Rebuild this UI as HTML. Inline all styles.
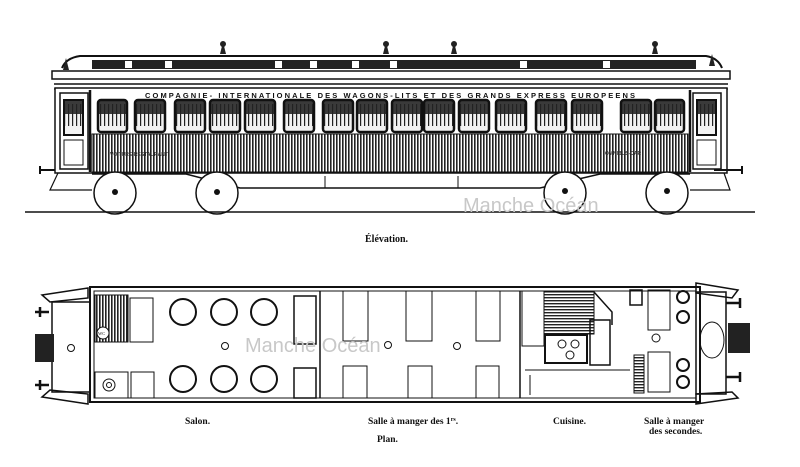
<!DOCTYPE html>
<html><head><meta charset="utf-8"><style>
html,body{margin:0;padding:0;background:#fff;}
svg{display:block;}
text{font-family:"Liberation Serif",serif;}
</style></head><body>
<svg width="800" height="467" viewBox="0 0 800 467" xmlns="http://www.w3.org/2000/svg">
<defs>
<pattern id="vs" width="3" height="10" patternUnits="userSpaceOnUse"><rect width="3" height="10" fill="#fff"/><rect width="1.6" height="10" fill="#222"/></pattern>
<pattern id="hs" width="10" height="3" patternUnits="userSpaceOnUse"><rect width="10" height="3" fill="#fff"/><rect width="10" height="1.4" fill="#222"/></pattern>
<pattern id="win" x="0" y="100" width="4" height="40" patternUnits="userSpaceOnUse"><rect width="4" height="14" fill="#3a3a3a"/><rect y="14" width="4" height="26" fill="#f2f2f2"/><rect width="1.2" height="22" y="4" fill="#222"/></pattern>
</defs>
<rect width="800" height="467" fill="#fff"/>
<g stroke="#111" fill="none">
<path d="M62 68 Q66 58 80 56 L706 56 Q718 58 722 68" stroke-width="2"/>
<rect x="92" y="60" width="604" height="9" fill="#222" stroke="none"/>
<g fill="#fff" stroke="none">
<rect x="125" y="61" width="7" height="7"/><rect x="165" y="61" width="7" height="7"/><rect x="275" y="61" width="7" height="7"/><rect x="310" y="61" width="7" height="7"/><rect x="352" y="61" width="7" height="7"/><rect x="390" y="61" width="7" height="7"/><rect x="520" y="61" width="7" height="7"/><rect x="603" y="61" width="7" height="7"/>
</g>
<g fill="#222" stroke="none">
<path d="M220 54 l3-12 l3 12z"/><circle cx="223" cy="44" r="3"/>
<path d="M383 54 l3-12 l3 12z"/><circle cx="386" cy="44" r="3"/>
<path d="M451 54 l3-12 l3 12z"/><circle cx="454" cy="44" r="3"/>
<path d="M652 54 l3-12 l3 12z"/><circle cx="655" cy="44" r="3"/>
<path d="M63 70 l3-12 l3 12z"/><path d="M709 66 l3-12 l3 12z"/>
</g>
<rect x="52" y="71" width="678" height="8" fill="#fff" stroke-width="1.5"/>
<line x1="54" y1="84" x2="728" y2="84" stroke-width="1.5"/>
<line x1="54" y1="89" x2="728" y2="89" stroke-width="1"/>
<rect x="55" y="88" width="672" height="85" stroke-width="1.5" fill="#fff"/>
<rect x="92" y="134" width="596" height="38" fill="url(#vs)" stroke-width="1"/>
<rect x="60" y="93" width="28" height="76" stroke-width="1.5"/>
<rect x="64" y="100" width="19" height="35" fill="url(#win)" stroke-width="2"/>
<rect x="64" y="140" width="19" height="25" stroke-width="1"/>
<rect x="693" y="93" width="28" height="76" stroke-width="1.5"/>
<rect x="697" y="100" width="19" height="35" fill="url(#win)" stroke-width="2"/>
<rect x="697" y="140" width="19" height="25" stroke-width="1"/>
<line x1="90" y1="90" x2="90" y2="172" stroke-width="2.5"/>
<line x1="690" y1="90" x2="690" y2="172" stroke-width="2.5"/>
</g>
<g fill="url(#win)" stroke="#111" stroke-width="2.5">
<rect x="98" y="100" width="29" height="32" rx="3"/><rect x="135" y="100" width="30" height="32" rx="3"/><rect x="175" y="100" width="30" height="32" rx="3"/><rect x="210" y="100" width="30" height="32" rx="3"/><rect x="245" y="100" width="30" height="32" rx="3"/><rect x="284" y="100" width="30" height="32" rx="3"/><rect x="323" y="100" width="30" height="32" rx="3"/><rect x="357" y="100" width="30" height="32" rx="3"/><rect x="392" y="100" width="30" height="32" rx="3"/><rect x="424" y="100" width="30" height="32" rx="3"/><rect x="459" y="100" width="30" height="32" rx="3"/><rect x="496" y="100" width="30" height="32" rx="3"/><rect x="536" y="100" width="30" height="32" rx="3"/><rect x="572" y="100" width="30" height="32" rx="3"/><rect x="621" y="100" width="30" height="32" rx="3"/><rect x="655" y="100" width="29" height="32" rx="3"/>
</g>
<g font-size="7" font-weight="bold" fill="#111">
<text x="145" y="98" style="font-family:'Liberation Sans',sans-serif" font-size="7.5" textLength="490" lengthAdjust="spacing">COMPAGNIE-  INTERNATIONALE  DES  WAGONS-LITS  ET  DES  GRANDS  EXPRESS  EUROPEENS</text>
<text x="110" y="156" font-size="5" style="font-family:'Liberation Sans',sans-serif" fill="#333">VOITURE-RESTAURANT</text>
<text x="605" y="155" font-size="5" style="font-family:'Liberation Sans',sans-serif" fill="#333">OMNIBUS-CAR</text>
</g>
<g stroke="#111" fill="none">
<path d="M92 174 L186 174 L240 188 L540 188 L600 174 L690 174" stroke-width="1.5"/>
<line x1="325" y1="176" x2="325" y2="188"/><line x1="458" y1="176" x2="458" y2="188"/>
<path d="M40 170 L55 170 M40 166 v8 M714 170 L742 170 M742 166 v8" stroke-width="2"/>
<path d="M58 173 L50 190 L92 190 M724 173 L730 190 L690 190" stroke-width="1.2"/>
<g stroke-width="1.5" fill="#fff">
<circle cx="115" cy="193" r="21"/><circle cx="217" cy="193" r="21"/><circle cx="565" cy="193" r="21"/><circle cx="667" cy="193" r="21"/>
</g>
<g fill="#111" stroke="none"><circle cx="115" cy="192" r="3"/><circle cx="217" cy="192" r="3"/><circle cx="565" cy="191" r="3"/><circle cx="667" cy="191" r="3"/></g>
<line x1="25" y1="212" x2="755" y2="212" stroke-width="1.5"/>
</g>
<text x="365" y="242" font-size="10" font-weight="bold" fill="#111">Élévation.</text>

<g stroke="#111" fill="none">
<path d="M42 295 L88 288 L88 298 L50 302 Z" stroke-width="1.5" fill="#fff"/>
<path d="M42 397 L88 404 L88 394 L50 390 Z" stroke-width="1.5" fill="#fff"/>
<path d="M738 290 L696 283 L696 293 L732 298 Z" stroke-width="1.5" fill="#fff"/>
<path d="M738 398 L696 404 L696 394 L732 392 Z" stroke-width="1.5" fill="#fff"/>
<rect x="52" y="302" width="38" height="90" stroke-width="1.5"/>
<rect x="696" y="292" width="30" height="102" stroke-width="1.5"/>
<rect x="90" y="287" width="610" height="115" stroke-width="2"/>
<rect x="94" y="291" width="602" height="107" stroke-width="1"/>
<circle cx="71" cy="348" r="3.5"/><circle cx="225" cy="346" r="3.5"/><circle cx="388" cy="345" r="3.5"/><circle cx="457" cy="346" r="3.5"/><circle cx="656" cy="338" r="4"/>
<path d="M35 312 h14 M40 307 v10 M35 385 h14 M40 380 v10 M726 303 h14 M740 298 v10 M726 377 h14 M740 372 v10" stroke-width="2.5"/>
<rect x="95" y="295" width="33" height="47" fill="url(#vs)"/>
<circle cx="103" cy="333" r="6" fill="#fff"/>
<text x="98" y="335" font-size="4.5" fill="#111" stroke="none">WC</text>
<rect x="130" y="298" width="23" height="44"/>
<rect x="95" y="372" width="33" height="26"/><circle cx="109" cy="385" r="6"/><circle cx="109" cy="385" r="2.5"/>
<rect x="131" y="372" width="23" height="26"/>
<g stroke-width="2">
<circle cx="183" cy="312" r="13"/><circle cx="224" cy="312" r="13"/><circle cx="264" cy="312" r="13"/>
<circle cx="183" cy="379" r="13"/><circle cx="224" cy="379" r="13"/><circle cx="264" cy="379" r="13"/>
</g>
<rect x="294" y="296" width="22" height="48" stroke-width="1.5"/>
<rect x="294" y="368" width="22" height="30" stroke-width="1.5"/>
<line x1="320" y1="291" x2="320" y2="398" stroke-width="1.5"/>
<rect x="343" y="291" width="25" height="50"/><rect x="406" y="291" width="26" height="50"/><rect x="476" y="291" width="24" height="50"/>
<rect x="343" y="366" width="24" height="32"/><rect x="408" y="366" width="24" height="32"/><rect x="476" y="366" width="23" height="32"/>
<line x1="520" y1="291" x2="520" y2="398" stroke-width="1.5"/>
<rect x="522" y="291" width="22" height="55"/>
<rect x="544" y="292" width="50" height="42" fill="url(#hs)"/>
<path d="M594 292 L612 312 L612 325" stroke-width="1.5"/>
<rect x="545" y="335" width="42" height="28" stroke-width="2" fill="#fff"/>
<circle cx="562" cy="344" r="4"/><circle cx="575" cy="344" r="4"/><circle cx="570" cy="355" r="4"/>
<rect x="590" y="320" width="20" height="45" stroke-width="1.5"/>
<path d="M525 370 L630 370 M530 375 v20" />
<rect x="630" y="290" width="12" height="15" stroke-width="1.5"/>
<rect x="634" y="355" width="10" height="38" fill="url(#hs)"/>
<rect x="648" y="290" width="22" height="40"/><rect x="648" y="352" width="22" height="40"/>
<circle cx="683" cy="297" r="6" stroke-width="2"/><circle cx="683" cy="317" r="6" stroke-width="2"/>
<circle cx="683" cy="365" r="6" stroke-width="2"/><circle cx="683" cy="382" r="6" stroke-width="2"/>
<ellipse cx="712" cy="340" rx="12" ry="18"/>
</g>
<rect x="35" y="334" width="19" height="28" fill="#222"/>
<rect x="728" y="323" width="22" height="30" fill="#222"/>
<g font-size="9.5" font-weight="bold" fill="#111">
<text x="185" y="424">Salon.</text>
<text x="368" y="424">Salle à manger des 1<tspan font-size="6" dy="-3">rs</tspan><tspan dy="3">.</tspan></text>
<text x="553" y="424">Cuisine.</text>
<text x="644" y="424">Salle à manger</text>
<text x="649" y="434">des secondes.</text>
<text x="377" y="442">Plan.</text>
</g>
<g font-size="20" fill="#c8c8c8">
<text x="463" y="212" style="font-family:'Liberation Sans',sans-serif">Manche Océan</text>
<text x="245" y="352" style="font-family:'Liberation Sans',sans-serif">Manche Océan</text>
</g>
</svg>
</body></html>
